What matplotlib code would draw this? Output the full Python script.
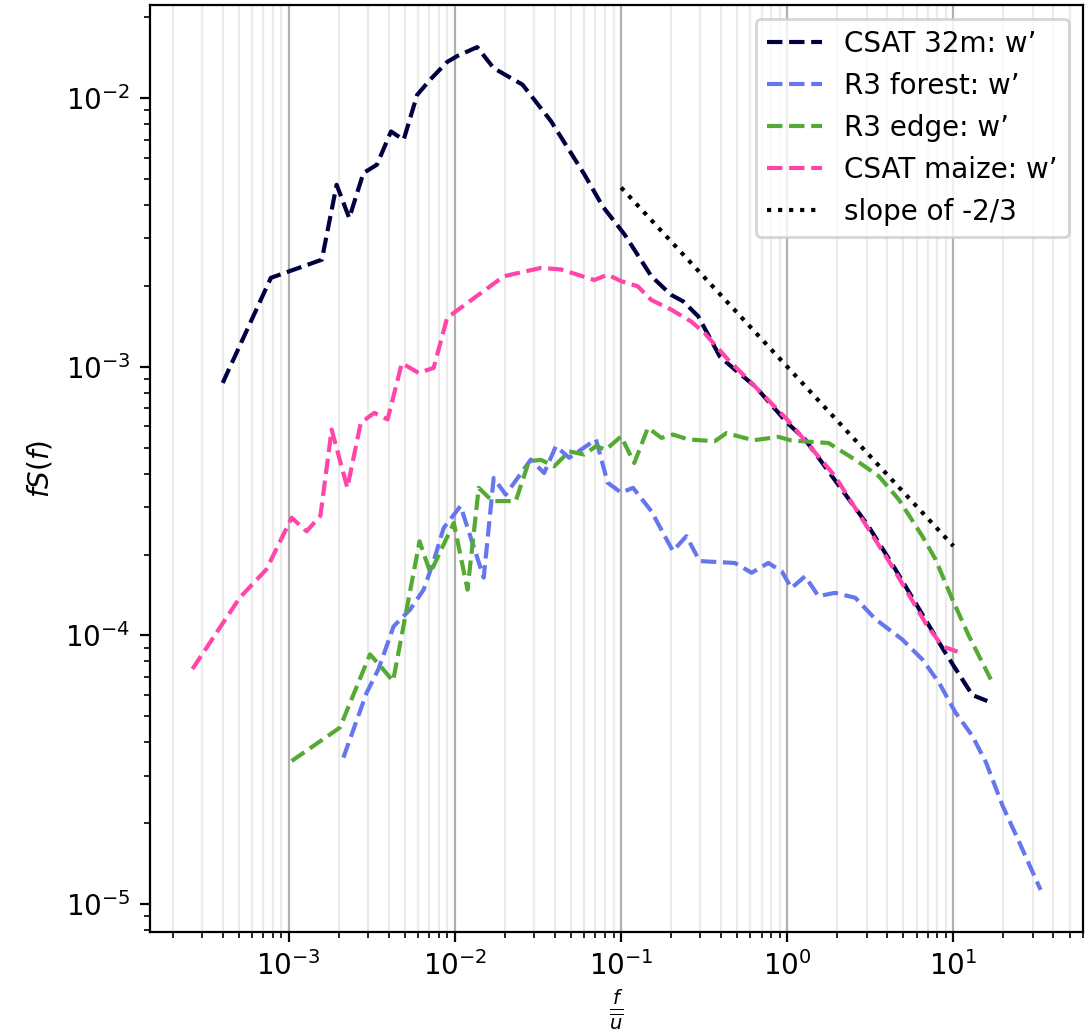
import matplotlib
matplotlib.use('Agg')
import matplotlib.pyplot as plt

# CSAT 32m: w'
csat32_f = [4.0e-4, 7.8e-4, 1.58e-3, 1.94e-3, 2.31e-3, 2.81e-3, 3.39e-3, 4.12e-3, 4.91e-3,
            5.92e-3, 7.1e-3, 8.97e-3, 1.03e-2, 1.36e-2, 1.71e-2, 2.55e-2, 3.78e-2, 6.0e-2,
            7.76e-2, 0.105, 0.152, 0.2, 0.236, 0.291, 0.393, 0.484, 0.64, 1.0, 1.28,
            2.13, 3.08, 4.48, 8.8, 13.0, 16.0]
csat32_s = [8.7e-4, 2.14e-3, 2.5e-3, 4.75e-3, 3.57e-3, 5.25e-3, 5.64e-3, 7.5e-3, 6.98e-3,
            1.026e-2, 1.17e-2, 1.36e-2, 1.43e-2, 1.545e-2, 1.29e-2, 1.12e-2, 8.2e-3, 5.2e-3,
            3.94e-3, 3.1e-3, 2.17e-3, 1.85e-3, 1.75e-3, 1.54e-3, 1.09e-3, 9.75e-4, 8.45e-4,
            6.18e-4, 5.36e-4, 3.49e-4, 2.55e-4, 1.76e-4, 8.75e-5, 6.0e-5, 5.7e-5]

# R3 forest: w'
forest_f = [2.13e-3, 2.94e-3, 3.46e-3, 4.27e-3, 5.38e-3, 6.48e-3, 7.44e-3, 8.55e-3, 1.08e-2,
            1.49e-2, 1.71e-2, 2.02e-2, 2.86e-2, 3.44e-2, 4.05e-2, 4.87e-2, 7.06e-2, 8.3e-2,
            0.1, 0.118, 0.152, 0.205, 0.247, 0.297, 0.484, 0.61, 0.769, 0.927, 1.06, 1.28,
            1.54, 1.94, 2.57, 3.39, 4.92, 6.5, 8.19, 10.3, 13.0, 15.7, 19.8, 24.9, 33.5]
forest_s = [3.51e-5, 6.12e-5, 7.48e-5, 1.08e-4, 1.25e-4, 1.48e-4, 1.89e-4, 2.51e-4, 3.03e-4,
            1.64e-4, 3.85e-4, 3.34e-4, 4.51e-4, 4.02e-4, 5.06e-4, 4.58e-4, 5.36e-4, 3.7e-4,
            3.4e-4, 3.54e-4, 2.9e-4, 2.06e-4, 2.34e-4, 1.89e-4, 1.86e-4, 1.71e-4, 1.86e-4,
            1.73e-4, 1.5e-4, 1.66e-4, 1.4e-4, 1.44e-4, 1.38e-4, 1.15e-4, 9.66e-5, 8.14e-5,
            6.67e-5, 5.16e-5, 4.23e-5, 3.37e-5, 2.32e-5, 1.7e-5, 1.13e-5]

# R3 edge: w'
edge_f = [1.04e-3, 2.03e-3, 3.08e-3, 3.55e-3, 4.24e-3, 6.12e-3, 7.11e-3, 9.84e-3, 1.19e-2,
          1.39e-2, 1.68e-2, 2.32e-2, 2.79e-2, 3.29e-2, 3.96e-2, 4.87e-2, 6.0e-2, 7.06e-2,
          8.1e-2, 0.1, 0.12, 0.145, 0.175, 0.205, 0.253, 0.366, 0.431, 0.625, 0.885, 1.06,
          1.77, 2.57, 3.56, 4.7, 6.5, 7.8, 9.87, 12.4, 16.8]
edge_s = [3.41e-5, 4.54e-5, 8.5e-5, 7.7e-5, 6.76e-5, 2.24e-4, 1.71e-4, 2.62e-4, 1.48e-4,
          3.54e-4, 3.16e-4, 3.16e-4, 4.45e-4, 4.5e-4, 4.26e-4, 4.84e-4, 4.71e-4, 5.06e-4,
          4.91e-4, 5.5e-4, 4.38e-4, 5.92e-4, 5.43e-4, 5.59e-4, 5.36e-4, 5.28e-4, 5.66e-4,
          5.32e-4, 5.48e-4, 5.31e-4, 5.2e-4, 4.5e-4, 3.91e-4, 3.2e-4, 2.34e-4, 1.92e-4,
          1.36e-4, 9.95e-5, 6.86e-5]

# CSAT maize: w'
maize_f = [2.63e-4, 5.06e-4, 7.33e-4, 1.04e-3, 1.28e-3, 1.55e-3, 1.81e-3, 2.25e-3, 2.71e-3,
           3.27e-3, 3.93e-3, 4.79e-3, 6.04e-3, 7.44e-3, 8.97e-3, 1.97e-2, 3.29e-2, 4.34e-2,
           6.9e-2, 8.3e-2, 0.1, 0.126, 0.152, 0.2, 0.265, 0.319, 0.441, 0.61, 1.0, 1.94,
           4.27, 6.8, 8.6, 10.6]
maize_s = [7.5e-5, 1.38e-4, 1.76e-4, 2.74e-4, 2.44e-4, 2.79e-4, 5.83e-4, 3.54e-4, 6.18e-4,
           6.73e-4, 6.36e-4, 1.03e-3, 9.48e-4, 9.89e-4, 1.52e-3, 2.17e-3, 2.33e-3, 2.3e-3,
           2.1e-3, 2.2e-3, 2.08e-3, 1.99e-3, 1.77e-3, 1.63e-3, 1.47e-3, 1.33e-3, 1.06e-3,
           8.7e-4, 6.35e-4, 3.91e-4, 1.81e-4, 1.11e-4, 9.1e-5, 8.7e-5]

# slope of -2/3
slope_f = [0.1, 10]
slope_s = [4.64e-3, 2.15e-4]

fig, ax = plt.subplots(figsize=(5.46, 5.17), dpi=200)
fig.subplots_adjust(left=0.1374, right=0.9918, top=0.9952, bottom=0.0986)

ax.loglog(csat32_f, csat32_s, '--', color='#000040', label='CSAT 32m: w’')
ax.loglog(forest_f, forest_s, '--', color='#6677ee', label='R3 forest: w’')
ax.loglog(edge_f, edge_s, '--', color='#55aa33', label='R3 edge: w’')
ax.loglog(maize_f, maize_s, '--', color='#ff44aa', label='CSAT maize: w’')
ax.loglog(slope_f, slope_s, ':', color='black', label='slope of -2/3')

ax.grid(which='major', axis='x', color='#b0b0b0', linewidth=0.8)
ax.grid(which='minor', axis='x', color='#b0b0b0', linewidth=0.8, alpha=0.25)
ax.set_xlabel(r'$\frac{f}{\overline{u}}$', labelpad=2)
ax.set_ylabel(r'$fS(f)$')
ax.legend(loc='upper right')

plt.savefig('out.png', dpi=200)
